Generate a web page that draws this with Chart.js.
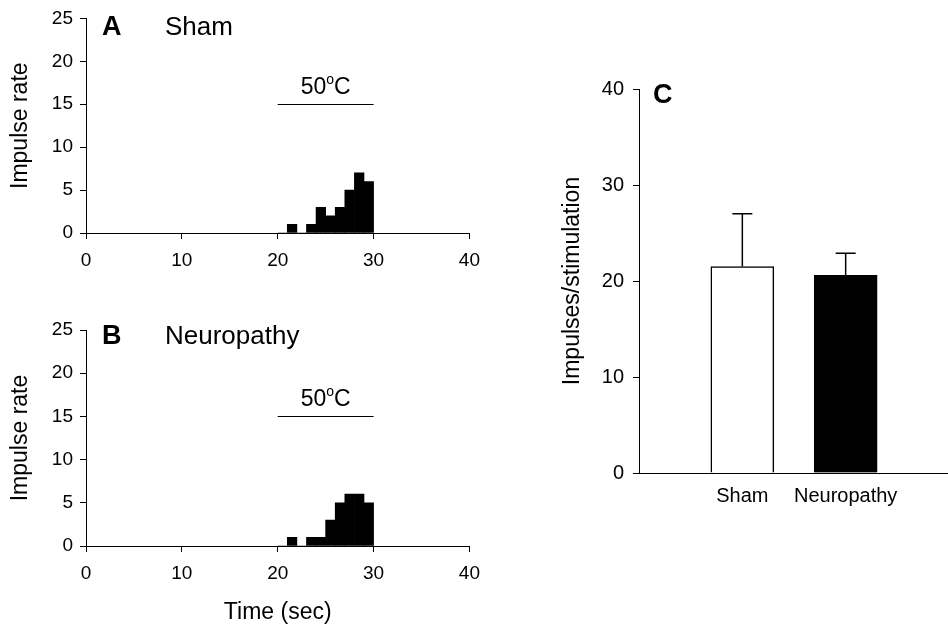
<!DOCTYPE html>
<html lang="en">
<head>
  <meta charset="UTF-8" />
  <title>Impulse rate: Sham vs Neuropathy</title>
  <style>
    body { margin: 0; background: #fff; }
    #wrap { position: relative; width: 948px; height: 628px; overflow: hidden; }
    canvas { position: absolute; }
  </style>
  <script src="https://cdn.jsdelivr.net/npm/chart.js"></script>
</head>
<body>
  <div id="wrap">
    <canvas id="chartA" width="490" height="290" style="left:0;top:0"></canvas>
    <canvas id="chartB" width="490" height="328" style="left:0;top:300px"></canvas>
    <canvas id="chartC" width="410" height="520" style="left:550px;top:0"></canvas>
  </div>

  <script>
    // Histogram data: 1-second bins (start of bin, sec)
    const timeBins = [20, 21, 22, 23, 24, 25, 26, 27, 28, 29];
    const shamRate = [0, 1, 0, 1, 3, 2, 3, 5, 7, 6];
    const neuroRate = [0, 1, 0, 1, 1, 3, 5, 6, 6, 5];
    const timeTicks = [0, 10, 20, 30, 40];
    const rateTicks = [0, 5, 10, 15, 20, 25];

    // Heat stimulus bar (50 degrees, 20-30 sec)
    const stimStart = 20;
    const stimEnd = 30;
    const stimLevel = 15;

    // Panel C: mean impulses per stimulation (+ SEM)
    const groups = ['', 'Sham', 'Neuropathy', ''];
    const groupMeans = [null, 21.5, 20.6, null];
    const groupErrors = [null, 5.5, 2.3, null];
    const meanTicks = [0, 10, 20, 30, 40];

    const FONT = "'Liberation Sans', Arial, sans-serif";
    Chart.defaults.font.family = FONT;
    Chart.defaults.color = '#000';

    // Panel letter, panel name and the stimulus marker
    const panelPlugin = {
      id: 'panelText',
      afterDraw(chart, args, o) {
        const { ctx, chartArea: a } = chart;
        ctx.save();
        ctx.fillStyle = '#000';
        ctx.strokeStyle = '#000';
        ctx.textBaseline = 'alphabetic';
        ctx.textAlign = 'left';
        ctx.font = 'bold 27px ' + FONT;
        ctx.fillText(o.letter, a.left + o.letterDx, a.top + o.dy);
        if (o.name) {
          ctx.font = '26px ' + FONT;
          ctx.fillText(o.name, a.left + o.nameDx, a.top + o.dy);
        }
        if (o.stim) {
          const x = chart.scales.x, y = chart.scales.y;
          const yp = Math.round(y.getPixelForValue(stimLevel)) + 0.5;
          const x1 = x.getPixelForValue(stimStart), x2 = x.getPixelForValue(stimEnd);
          ctx.lineWidth = 1.2;
          ctx.beginPath();
          ctx.moveTo(x1, yp);
          ctx.lineTo(x2, yp);
          ctx.stroke();
          // "50°C" with a raised small o
          const big = '23px ' + FONT, small = '14px ' + FONT;
          ctx.font = big;
          const w1 = ctx.measureText('50').width, w3 = ctx.measureText('C').width;
          ctx.font = small;
          const w2 = ctx.measureText('o').width;
          let tx = (x1 + x2) / 2 - (w1 + w2 + w3) / 2;
          const base = yp - 11;
          ctx.font = big;
          ctx.fillText('50', tx, base);
          tx += w1;
          ctx.font = small;
          ctx.fillText('o', tx, base - 9.5);
          tx += w2;
          ctx.font = big;
          ctx.fillText('C', tx, base);
        }
        ctx.restore();
      }
    };

    // Upward error bars for panel C
    const errorBarPlugin = {
      id: 'errorBars',
      afterDatasetsDraw(chart) {
        const { ctx } = chart;
        const y = chart.scales.y;
        const meta = chart.getDatasetMeta(0);
        ctx.save();
        ctx.strokeStyle = '#000';
        ctx.lineWidth = 1.5;
        meta.data.forEach((el, i) => {
          if (groupMeans[i] == null || groupErrors[i] == null) return;
          const top = y.getPixelForValue(groupMeans[i] + groupErrors[i]);
          ctx.beginPath();
          ctx.moveTo(el.x, el.y);
          ctx.lineTo(el.x, top);
          ctx.moveTo(el.x - 10, top);
          ctx.lineTo(el.x + 10, top);
          ctx.stroke();
        });
        ctx.restore();
      }
    };

    function makeHist(id, rates, cfg) {
      return new Chart(document.getElementById(id), {
        type: 'bar',
        data: {
          datasets: [{
            data: timeBins.map((t, i) => ({ x: t + 0.5, y: rates[i] })),
            backgroundColor: '#000',
            borderWidth: 0,
            barPercentage: 1,
            categoryPercentage: 1
          }]
        },
        options: {
          responsive: false,
          animation: false,
          events: [],
          layout: { padding: { top: cfg.top, right: 20, left: 0, bottom: 0 } },
          plugins: {
            legend: { display: false },
            tooltip: { enabled: false },
            panelText: { letter: cfg.letter, name: cfg.name, letterDx: 16, nameDx: 79, dy: cfg.dy, stim: true }
          },
          scales: {
            x: {
              type: 'linear',
              min: 0,
              max: 40,
              offset: false,
              afterBuildTicks: s => { s.ticks = timeTicks.map(v => ({ value: v })); },
              afterFit: s => { s.height = cfg.xHeight; },
              grid: { offset: false, drawOnChartArea: false, tickLength: 6, color: '#000' },
              border: { color: '#000', width: 1 },
              ticks: { font: { size: 19 }, padding: 10, maxRotation: 0 },
              title: {
                display: !!cfg.xTitle,
                text: cfg.xTitle || '',
                font: { size: 23 },
                padding: { top: 0, bottom: 2 }
              }
            },
            y: {
              min: 0,
              max: 25,
              afterBuildTicks: s => { s.ticks = rateTicks.map(v => ({ value: v })); },
              afterFit: s => { s.width = 86; },
              grid: { drawOnChartArea: false, tickLength: 6, color: '#000' },
              border: { color: '#000', width: 1 },
              ticks: { font: { size: 19 }, padding: 7 },
              title: {
                display: true,
                text: 'Impulse rate',
                font: { size: 23 },
                padding: { top: 7, bottom: 0 }
              }
            }
          }
        },
        plugins: [panelPlugin]
      });
    }

    makeHist('chartA', shamRate, { letter: 'A', name: 'Sham', top: 16, dy: 17, xHeight: 57 });
    makeHist('chartB', neuroRate, { letter: 'B', name: 'Neuropathy', top: 30, dy: 14, xHeight: 82, xTitle: 'Time (sec)' });

    new Chart(document.getElementById('chartC'), {
      type: 'bar',
      data: {
        labels: groups,
        datasets: [{
          data: groupMeans,
          backgroundColor: ['#fff', '#fff', '#000', '#fff'],
          borderColor: '#000',
          borderWidth: 1.5,
          barThickness: 63
        }]
      },
      options: {
        responsive: false,
        animation: false,
        events: [],
        layout: { padding: { top: 89, right: 0, left: 0, bottom: 0 } },
        plugins: {
          legend: { display: false },
          tooltip: { enabled: false },
          panelText: { letter: 'C', letterDx: 14, dy: 14 }
        },
        scales: {
          x: {
            offset: false,
            afterFit: s => { s.height = 47; },
            grid: { display: false, drawTicks: false },
            border: { color: '#000', width: 1 },
            ticks: { font: { size: 20 }, padding: 11, autoSkip: false, maxRotation: 0 }
          },
          y: {
            min: 0,
            max: 40,
            afterBuildTicks: s => { s.ticks = meanTicks.map(v => ({ value: v })); },
            afterFit: s => { s.width = 89; },
            grid: { drawOnChartArea: false, tickLength: 6, color: '#000' },
            border: { color: '#000', width: 1 },
            ticks: { font: { size: 20 }, padding: 9 },
            title: {
              display: true,
              text: 'Impulses/stimulation',
              font: { size: 23 },
              padding: { top: 9, bottom: 0 }
            }
          }
        }
      },
      plugins: [errorBarPlugin, panelPlugin]
    });
  </script>
</body>
</html>
